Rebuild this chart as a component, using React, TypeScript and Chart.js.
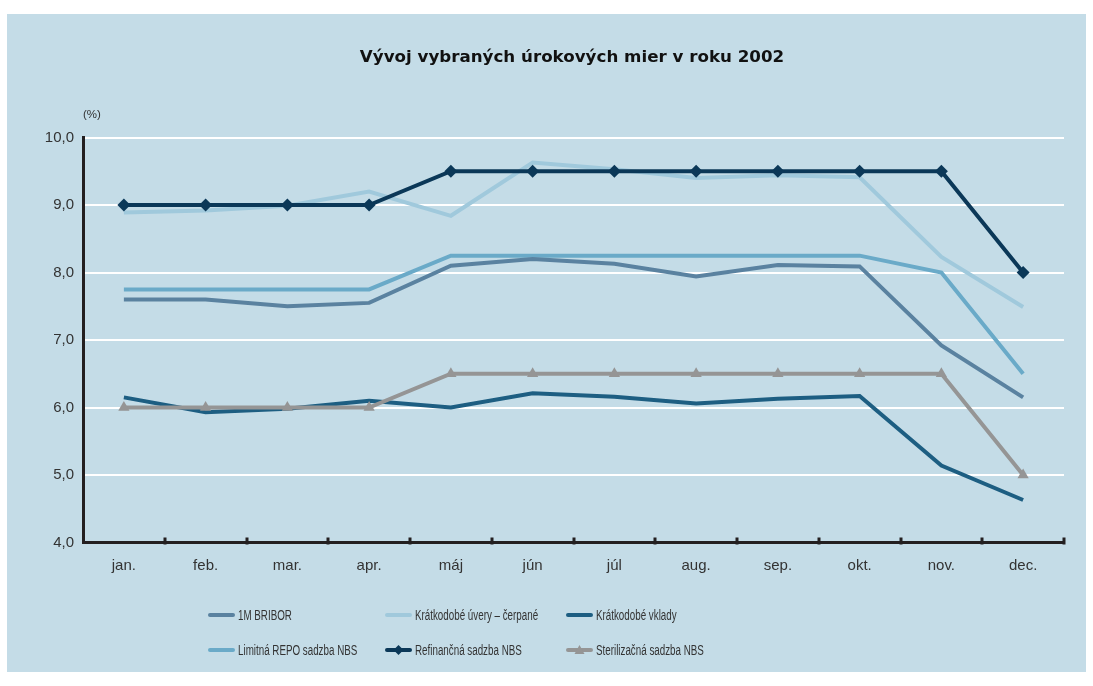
import React, { useEffect, useRef } from "react";
import { Chart, registerables } from "chart.js";

Chart.register(...registerables);

// Months of 2002
const months = ["jan.", "feb.", "mar.", "apr.", "máj", "jún", "júl", "aug.", "sep.", "okt.", "nov.", "dec."];

// Interest rates (%)
const bribor1M = [7.6, 7.6, 7.5, 7.55, 8.1, 8.2, 8.13, 7.94, 8.11, 8.09, 6.92, 6.15];
const shortLoans = [8.89, 8.92, 8.99, 9.2, 8.84, 9.63, 9.53, 9.4, 9.44, 9.41, 8.23, 7.49];
const shortDeposits = [6.15, 5.93, 5.98, 6.1, 6.0, 6.21, 6.16, 6.06, 6.13, 6.17, 5.14, 4.63];
const repoLimit = [7.75, 7.75, 7.75, 7.75, 8.25, 8.25, 8.25, 8.25, 8.25, 8.25, 8.0, 6.5];
const refinRate = [9, 9, 9, 9, 9.5, 9.5, 9.5, 9.5, 9.5, 9.5, 9.5, 8];
const sterilRate = [6, 6, 6, 6, 6.5, 6.5, 6.5, 6.5, 6.5, 6.5, 6.5, 5];

const seriesNames = [
  "1M BRIBOR",
  "Krátkodobé úvery – čerpané",
  "Krátkodobé vklady",
  "Limitná REPO sadzba NBS",
  "Refinančná sadzba NBS",
  "Sterilizačná sadzba NBS",
];
const seriesColors = ["#5a82a0", "#a0c9dc", "#1d5e82", "#6aaac8", "#0b3858", "#959595"];

const TITLE = "Vývoj vybraných úrokových mier v roku 2002";
const UNIT = "(%)";
const AXIS_COLOR = "#231f20";
const TEXT_COLOR = "#333333";
const W = 1079;
const H = 658;

function drawMarker(ctx: CanvasRenderingContext2D, style: string, x: number, y: number, r: number, color: string) {
  ctx.save();
  ctx.fillStyle = color;
  ctx.beginPath();
  if (style === "rectRot") {
    ctx.moveTo(x, y - r);
    ctx.lineTo(x + r, y);
    ctx.lineTo(x, y + r);
    ctx.lineTo(x - r, y);
  } else if (style === "triangle") {
    ctx.moveTo(x, y - r);
    ctx.lineTo(x + r, y + r * 0.8);
    ctx.lineTo(x - r, y + r * 0.8);
  }
  ctx.closePath();
  ctx.fill();
  ctx.restore();
}

const decorPlugin = {
  id: "decor",
  afterDraw(chart: any) {
    const ctx: CanvasRenderingContext2D = chart.ctx;
    const { left, right, bottom } = chart.chartArea;
    ctx.save();

    // title
    ctx.fillStyle = "#111111";
    ctx.font = "bold 16.7px 'DejaVu Sans', sans-serif";
    ctx.textAlign = "center";
    ctx.textBaseline = "middle";
    ctx.fillText(TITLE, 565, 44);

    // unit label
    ctx.fillStyle = TEXT_COLOR;
    ctx.font = "11.5px 'Liberation Sans', Arial, sans-serif";
    ctx.textAlign = "left";
    ctx.fillText(UNIT, left, 101);

    // category separators on the x axis
    ctx.fillStyle = AXIS_COLOR;
    const step = (right - left) / months.length;
    for (let i = 1; i <= months.length; i++) {
      const x = Math.round(left + i * step);
      ctx.fillRect(x - 1.5, bottom - 5, 3, 7);
    }

    // legend: three columns, two rows, narrow lettering
    const colX = [201, 378, 559];
    const rowY = [601, 636];
    const squeeze = 0.7;
    ctx.textBaseline = "middle";
    chart.data.datasets.forEach((ds: any, i: number) => {
      const x = colX[i % 3];
      const y = rowY[Math.floor(i / 3)];
      ctx.strokeStyle = ds.borderColor;
      ctx.lineWidth = 4;
      ctx.lineCap = "round";
      ctx.beginPath();
      ctx.moveTo(x + 2, y);
      ctx.lineTo(x + 25, y);
      ctx.stroke();
      if (ds.pointRadius > 0) {
        drawMarker(ctx, ds.pointStyle, x + 13.5, y, 5, ds.borderColor);
      }
      ctx.save();
      ctx.translate(x + 30, y + 1);
      ctx.scale(squeeze, 1);
      ctx.fillStyle = TEXT_COLOR;
      ctx.textAlign = "left";
      ctx.font = "14px 'Liberation Sans', Arial, sans-serif";
      ctx.fillText(ds.label, 0, 0);
      ctx.restore();
    });
    ctx.restore();
  },
};

export default function App() {
  const canvasRef = useRef<HTMLCanvasElement | null>(null);

  useEffect(() => {
    if (!canvasRef.current) return;
    const values = [bribor1M, shortLoans, shortDeposits, repoLimit, refinRate, sterilRate];
    const pointStyles = ["circle", "circle", "circle", "circle", "rectRot", "triangle"];
    const radii = [0, 0, 0, 0, 6.5, 6.5];
    const drawOrder = [3, 4, 2, 5, 0, 1];
    const chart = new Chart(canvasRef.current, {
      type: "line",
      data: {
        labels: months,
        datasets: values.map((v, i) => ({
          label: seriesNames[i],
          data: v,
          borderColor: seriesColors[i],
          backgroundColor: seriesColors[i],
          borderWidth: 4,
          tension: 0,
          pointStyle: pointStyles[i] as any,
          pointRadius: radii[i],
          pointHoverRadius: radii[i],
          pointBorderWidth: 0,
          order: drawOrder[i],
        })),
      },
      options: {
        responsive: false,
        animation: false,
        layout: { padding: { top: 123.5, right: 22, bottom: 84.5, left: 0 } },
        plugins: {
          legend: { display: false },
          title: { display: false },
          tooltip: { enabled: false },
        },
        scales: {
          x: {
            offset: true,
            grid: { display: false },
            border: { display: true, color: AXIS_COLOR, width: 3 },
            ticks: {
              color: TEXT_COLOR,
              font: { family: "'Liberation Sans', Arial, sans-serif", size: 15 },
              padding: 6,
              maxRotation: 0,
            },
            afterFit(scale: any) {
              scale.height = 45;
            },
          },
          y: {
            min: 4,
            max: 10,
            grid: { color: "#ffffff", lineWidth: 2, drawTicks: false },
            border: { display: true, color: AXIS_COLOR, width: 3 },
            ticks: {
              stepSize: 1,
              color: TEXT_COLOR,
              padding: 9,
              font: { family: "'Liberation Sans', Arial, sans-serif", size: 15 },
              callback: (v: any) => Number(v).toFixed(1).replace(".", ","),
            },
            afterFit(scale: any) {
              scale.width = 76;
            },
          },
        },
      },
      plugins: [decorPlugin],
    });
    return () => chart.destroy();
  }, []);

  return (
    <div style={{ position: "absolute", left: 7, top: 14, width: W, height: H, background: "#c4dce7" }}>
      <canvas ref={canvasRef} width={W} height={H} style={{ display: "block", width: W, height: H }} />
    </div>
  );
}
